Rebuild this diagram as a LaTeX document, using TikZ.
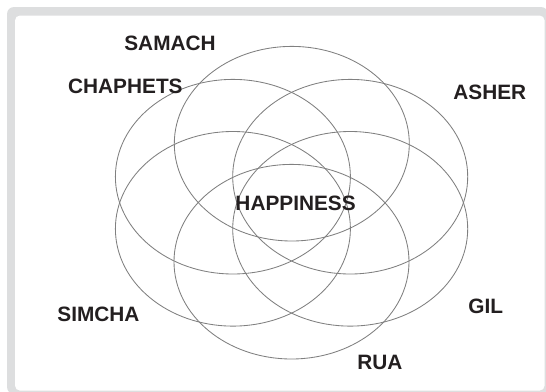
\documentclass[tikz,border=0pt]{standalone}
\usepackage{fontspec}
\setmainfont{Liberation Sans}
\definecolor{framegray}{RGB}{221,222,223}
\definecolor{ringgray}{RGB}{128,128,128}
\definecolor{txt}{RGB}{35,31,32}
\tikzset{
  ring/.style={draw=ringgray, line width=0.85pt},
  lbl/.style={inner sep=0pt, text=txt, font=\fontsize{20.8}{24}\selectfont\bfseries},
}
\begin{document}
\begin{tikzpicture}[x=1pt,y=-1pt]
\useasboundingbox (0,0) rectangle (546,391);
\fill[framegray, rounded corners=7pt] (7,7) rectangle (548,394);
\fill[white, rounded corners=5pt] (15,15.5) rectangle (544.6,390.6);
% ellipse centres
\coordinate (ctop) at (291.8,143.7);
\coordinate (cul) at (232.9,176.7);
\coordinate (cur) at (350.2,176.7);
\coordinate (cll) at (232.9,228.8);
\coordinate (clr) at (350.2,228.8);
\coordinate (cbot) at (291.5,261.7);
\foreach \c in {ctop,cul,cur,cll,clr,cbot}
  \draw[ring] (\c) ellipse [x radius=117.5pt, y radius=97.3pt];
% labels
\node[lbl] (samach) at (170,43.2) {SAMACH};
\node[lbl] (chaphets) at (125.4,86.7) {CHAPHETS};
\node[lbl] (asher) at (489.8,92.7) {ASHER};
\node[lbl] (happiness) at (295.6,203) {HAPPINESS};
\node[lbl] (simcha) at (98.4,314.3) {SIMCHA};
\node[lbl] (gil) at (485.8,306.8) {GIL};
\node[lbl] (rua) at (379.8,362.3) {RUA};
\end{tikzpicture}
\end{document}
